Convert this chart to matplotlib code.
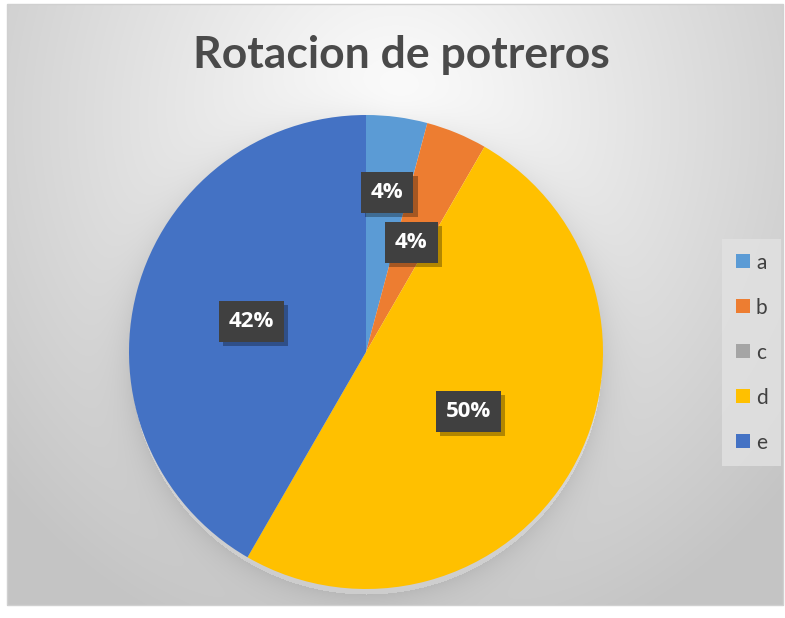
import numpy as np
import matplotlib
matplotlib.use("Agg")
import matplotlib.pyplot as plt
import matplotlib.patheffects as pe
from matplotlib.patches import Rectangle

# data
categories = ["a", "b", "c", "d", "e"]
values = [1, 1, 0, 12, 10]
colors = ["#5B9BD5", "#ED7D31", "#A5A5A5", "#FFC000", "#4472C4"]
title = "Rotacion de potreros"

W, H = 785, 618
fig = plt.figure(figsize=(W / 100, H / 100), dpi=100)

# background: radial gradient + soft shadow under the pie
yy, xx = np.mgrid[0:H, 0:W]
d = np.sqrt(((xx - 395) / 520.0) ** 2 + ((yy - 120) / 560.0) ** 2)
g = 1.0 - 0.23 * np.clip(d, 0, 1)
dist = np.sqrt((xx - 366) ** 2 + (yy - 358) ** 2) - 236
shade = np.where(dist > 0, 0.08 * np.exp(-dist / 16.0), 0.0)
g = g - shade
inside = (xx >= 7) & (xx <= 783) & (yy >= 4) & (yy <= 605)
g = np.where(inside, g, 1.0)
bg = np.dstack([g, g, g])
ax_bg = fig.add_axes([0, 0, 1, 1])
ax_bg.imshow(bg, extent=(0, W, H, 0), interpolation="bilinear")
ax_bg.add_patch(Rectangle((7, 4), 776, 601, fill=False, ec="#d0d0d0", lw=1))
ax_bg.set_xlim(0, W)
ax_bg.set_ylim(H, 0)
ax_bg.axis("off")

# pie
cx, cy, r = 366, 352, 237
ax = fig.add_axes([(cx - r) / W, (H - cy - r) / H, 2 * r / W, 2 * r / H])
wedges, _ = ax.pie(values, colors=colors, startangle=90, counterclock=False,
                   radius=1, wedgeprops=dict(linewidth=0))
ax.set_xlim(-1, 1)
ax.set_ylim(-1, 1)
ax.set_aspect("equal")
ax.axis("off")

label_dist = [0.68, 0.5, 0.5, 0.5, 0.5]
total = sum(values)
for w, v, rd in zip(wedges, values, label_dist):
    if v == 0:
        continue
    ang = np.deg2rad((w.theta1 + w.theta2) / 2)
    t = ax.text(rd * np.cos(ang), rd * np.sin(ang), f"{round(100 * v / total)}%",
                ha="center", va="center", color="white", fontsize=16,
                fontweight="bold", family="Open Sans",
                bbox=dict(boxstyle="square,pad=0.45", fc="#404040", ec="none"))
    t.get_bbox_patch().set_path_effects(
        [pe.withSimplePatchShadow(offset=(3, -3), shadow_rgbFace="black", alpha=0.3)])

fig.text(401 / W, 1 - 55 / H, title, ha="center", va="center", fontsize=32,
         fontweight="bold", color="#4a4a4a", family="Lato")

leg = fig.legend(wedges, categories, loc="upper left",
                 bbox_to_anchor=(722 / W, 1 - 239 / H), borderaxespad=0,
                 frameon=True, fancybox=False,
                 handlelength=0.68, handleheight=0.68, handletextpad=0.3,
                 labelspacing=1.2, borderpad=0.65,
                 prop=dict(family="Lato", size=15))
leg.get_frame().set_facecolor("#e2e2e2")
leg.get_frame().set_edgecolor("none")
for txt in leg.get_texts():
    txt.set_color("#404040")

fig.savefig("out.png", dpi=100)
